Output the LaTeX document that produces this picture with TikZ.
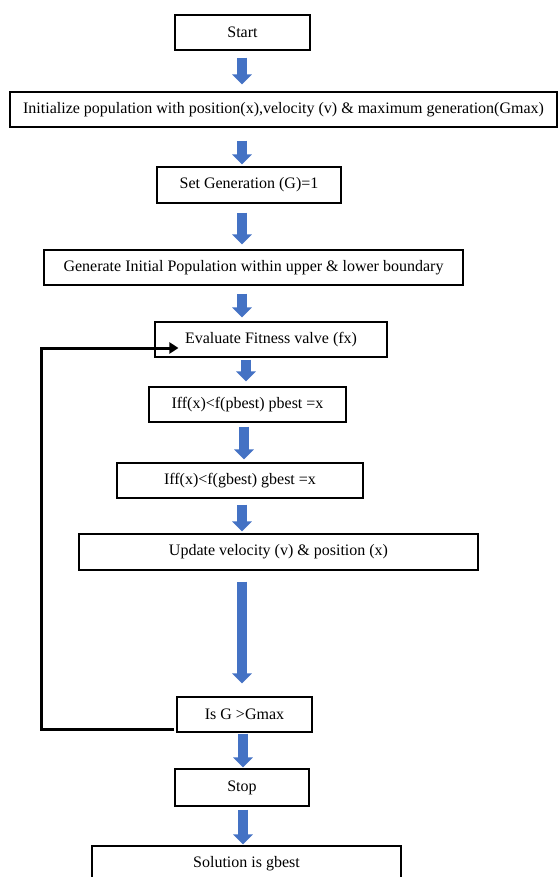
\documentclass[tikz,border=0pt]{standalone}
\usepackage{fontspec}
\setmainfont{Liberation Serif}
\usetikzlibrary{arrows.meta}
\definecolor{flowblue}{RGB}{68,114,196}

\begin{document}
\begin{tikzpicture}[x=1pt, y=-1pt,
  box/.style={draw, line width=1.1pt, minimum height=35pt, inner sep=0pt, font=\fontsize{16}{19}\selectfont},
  flow/.style={flowblue, line width=10pt, -{Triangle[width=19pt,length=10pt]}},
  loopline/.style={line width=3pt, -{Triangle[width=11pt,length=9pt]}}]
\useasboundingbox (0,0) rectangle (558,877);
\node[box, minimum width=135pt] (start) at (242.5,32.5) {Start};
\node[box, minimum width=547pt] (init) at (283.5,109.5) {Initialize population with position(x),velocity (v) \& maximum generation(Gmax)};
\node[box, minimum width=184pt, minimum height=36pt] (setgen) at (249,185) {Set Generation (G)=1};
\node[box, minimum width=419pt] (generate) at (253.5,267.5) {Generate Initial Population within upper \& lower boundary};
\node[box, minimum width=232pt] (evaluate) at (271,339.5) {Evaluate Fitness valve (fx)};
\node[box, minimum width=197pt] (pbest) at (247.5,404.5) {Iff(x)<f(pbest) pbest =x};
\node[box, minimum width=246pt] (gbest) at (240,480.5) {Iff(x)<f(gbest) gbest =x};
\node[box, minimum width=399pt, minimum height=36pt] (update) at (278.5,552) {Update velocity (v) \& position (x)};
\node[box, minimum width=135pt] (isg) at (244.5,714.5) {Is G >Gmax};
\node[box, minimum width=134pt, minimum height=37pt] (stop) at (242,787.5) {Stop};
\node[box, minimum width=309pt, minimum height=36pt] (solution) at (246.5,864) {Solution is gbest};

% blue arrows down the middle
\coordinate (axis) at (242,0);
\draw[flow, shorten <=7pt, shorten >=7pt] (start.south -| axis) -- (init.north -| axis);
\draw[flow, shorten <=13pt, shorten >=2pt] (init.south -| axis) -- (setgen.north -| axis);
\draw[flow, shorten <=9pt, shorten >=5pt] (setgen.south -| axis) -- (generate.north -| axis);
\draw[flow, shorten <=8pt, shorten >=4pt] (generate.south -| axis) -- (evaluate.north -| axis);
\draw[flow, shorten <=2pt, shorten >=5pt] ([xshift=4pt]evaluate.south -| axis) -- ([xshift=4pt]pbest.north -| axis);
\draw[flow, shorten <=4pt, shorten >=3pt] ([xshift=2pt]pbest.south -| axis) -- ([xshift=2pt]gbest.north -| axis);
\draw[flow, shorten <=6pt, shorten >=2pt] (gbest.south -| axis) -- (update.north -| axis);
\draw[flow, shorten <=11pt, shorten >=13pt] (update.south -| axis) -- (isg.north -| axis);
\draw[flow, shorten <=1pt, shorten >=1pt] ([xshift=1pt]isg.south -| axis) -- ([xshift=1pt]stop.north -| axis);
\draw[flow, shorten <=3pt, shorten >=1pt] ([xshift=1pt]stop.south -| axis) -- ([xshift=1pt]solution.north -| axis);

% loop back
\coordinate (corner) at (41,348);
\draw[loopline] ([xshift=-2pt,yshift=-14.5pt]isg.west) -| (corner) |- ([xshift=24pt,yshift=-8.5pt]evaluate.west);
\end{tikzpicture}
\end{document}
